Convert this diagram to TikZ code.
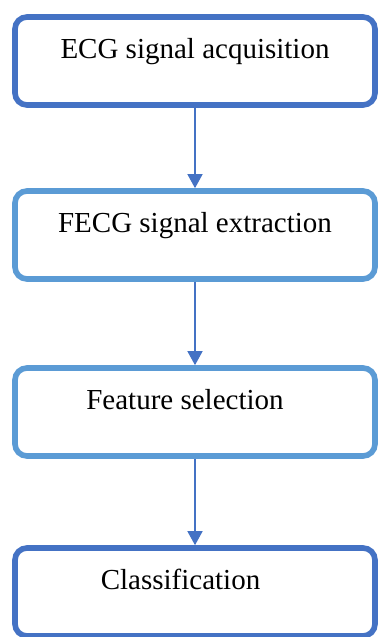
\documentclass[tikz,border=0pt]{standalone}
\usepackage{fontspec}
\setmainfont{Liberation Serif}
\usetikzlibrary{arrows.meta}

\definecolor{darkblue}{RGB}{68,114,196}
\definecolor{lightblue}{RGB}{91,155,213}

\tikzstyle{stepbox}=[shape=rectangle,rounded corners=0.24cm,line width=3.2pt,fill=white,
  minimum width=7.2cm,inner xsep=0pt,inner ysep=0pt,text height=0.84cm,text depth=0.92cm,
  font=\fontsize{16.5}{20}\selectfont]
\tikzstyle{darkbox}=[stepbox,draw=darkblue]
\tikzstyle{lightbox}=[stepbox,draw=lightblue]
\tikzstyle{flowedge}=[{Triangle[width=0.3cm,length=0.28cm]}-,line width=0.85pt,draw=darkblue]

\begin{document}
\begin{tikzpicture}[]
\useasboundingbox (0,0) rectangle (7.58,12.74);
% 1st box
\node[darkbox] (acq) at (3.9,11.52) {ECG signal acquisition};
% 2nd box
\node[lightbox] (ext) at (3.9,8.04) {FECG signal extraction}
    edge[flowedge] (acq);
% 3rd box
\node[lightbox] (sel) at (3.9,4.50) {Feature selection\hspace{0.4cm}\null}
    edge[flowedge] (ext);
% 4th box
\node[darkbox] (cls) at (3.9,0.90) {Classification\hspace{0.58cm}\null}
    edge[flowedge] (sel);
\end{tikzpicture}
\end{document}
